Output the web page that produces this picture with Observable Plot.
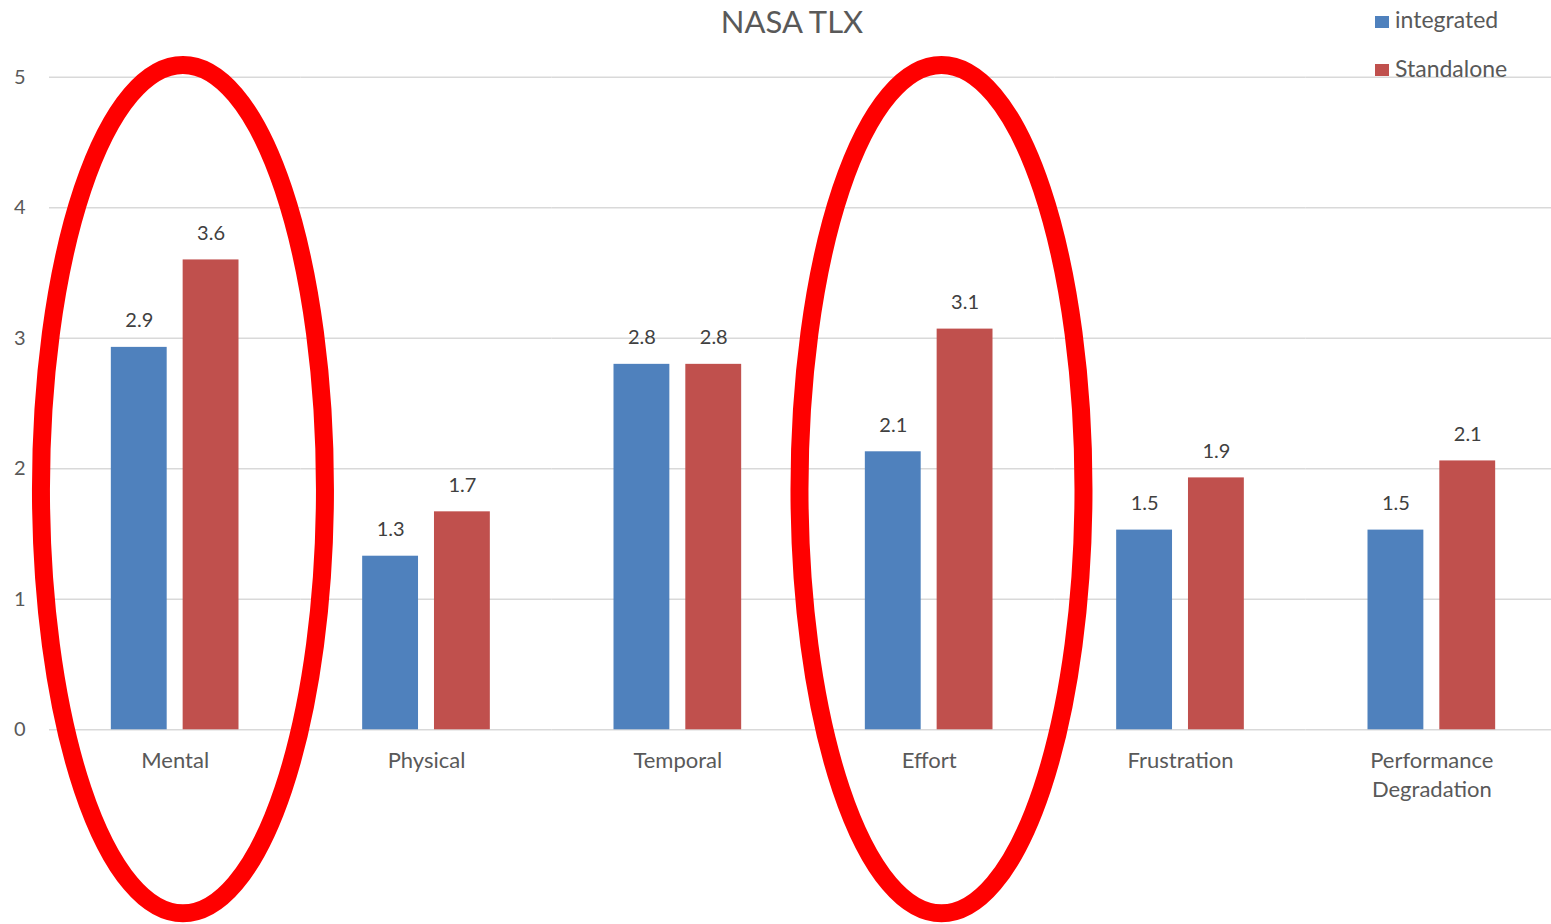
<!DOCTYPE html>
<html>
<head>
<meta charset="utf-8">
<script src="https://cdn.jsdelivr.net/npm/d3@7"></script>
<script src="https://cdn.jsdelivr.net/npm/@observablehq/plot@0.6"></script>
<style>
  html, body { margin: 0; padding: 0; background: #fff; overflow: hidden; }
  #chart { position: relative; width: 1551px; height: 924px; font-family: Lato, sans-serif; }
  #title { position: relative; height: 48px; }
  #title span { position: absolute; left: 792px; top: 3px; transform: translateX(-50%);
    font-size: 31px; line-height: 1.2; color: #595959; white-space: nowrap; }
  .legend-item { position: absolute; left: 1395px; font-size: 23px; line-height: 1.2;
    color: #595959; white-space: nowrap; }
  .swatch { position: absolute; left: 1375px; width: 14px; height: 12px; }
  #chart svg { display: block; overflow: visible; max-width: none !important; }
</style>
</head>
<body>
<div id="chart">
  <div id="title"><span>NASA TLX</span></div>
</div>
<script>
// NASA TLX workload ratings per dimension, integrated vs. standalone
const categories = ["Mental", "Physical", "Temporal", "Effort", "Frustration", "Performance Degradation"];
const categoryLabels = ["Mental", "Physical", "Temporal", "Effort", "Frustration", "Performance\nDegradation"];
const seriesNames = ["integrated", "Standalone"];
const integrated = [2.93, 1.33, 2.80, 2.13, 1.53, 1.53];
const standalone = [3.60, 1.67, 2.80, 3.07, 1.93, 2.06];
const yTicks = [0, 1, 2, 3, 4, 5];
const seriesColors = ["#4F81BD", "#C0504D"];
const highlighted = ["Mental", "Effort"];

const rows = categories.flatMap((c, i) => [
  {category: c, series: seriesNames[0], value: integrated[i]},
  {category: c, series: seriesNames[1], value: standalone[i]}
]);
const labelOf = new Map(categories.map((c, i) => [c, categoryLabels[i]]));
const fmt = d3.format(".1f");

const plot = Plot.plot({
  width: 1557,
  height: 876,
  marginLeft: 49,
  marginRight: 0,
  marginTop: 28.7,
  marginBottom: 194.7,
  style: {fontFamily: "Lato, sans-serif", background: "transparent", overflow: "visible", maxWidth: "none"},
  fx: {domain: categories, padding: 0, round: false, label: null},
  x: {domain: seriesNames, paddingInner: 0.2222, paddingOuter: 0.861, round: false, axis: null},
  y: {domain: [0, 5], axis: null},
  color: {domain: seriesNames, range: seriesColors},
  marks: [
    Plot.gridY(yTicks, {stroke: "#D9D9D9", strokeOpacity: 1, strokeWidth: 1.5}),
    Plot.axisY(yTicks, {tickSize: 0, tickPadding: 24, fontSize: 20, color: "#595959", label: null,
      tickFormat: d3.format("d")}),
    Plot.axisFx({anchor: "bottom", tickSize: 0, tickPadding: 18, fontSize: 22, color: "#595959",
      lineHeight: 1.3, label: null, tickFormat: (c) => labelOf.get(c)}),
    Plot.barY(rows, {fx: "category", x: "series", y: "value", fill: "series"}),
    Plot.text(rows, {fx: "category", x: "series", y: "value", text: (d) => fmt(d.value),
      lineAnchor: "bottom", dy: -20, fontSize: 20, fill: "#404040"})
  ]
});

// Red ellipses calling out the highlighted dimensions
const fxScale = plot.scale("fx");
const yScale = plot.scale("y");
const ellipseShift = {Mental: 0.033, Effort: 0.051};
const ellipseTop = 5.09, ellipseBottom = -1.41, ellipseHalfWidth = 0.565;
const overlay = d3.select(plot).append("g").attr("fill", "none").attr("stroke", "#FF0000").attr("stroke-width", 18);
for (const c of highlighted) {
  const cx = fxScale.apply(c) + fxScale.bandwidth * (0.5 + ellipseShift[c]);
  const y1 = yScale.apply(ellipseTop), y2 = yScale.apply(ellipseBottom);
  overlay.append("ellipse")
    .attr("cx", cx)
    .attr("cy", (y1 + y2) / 2)
    .attr("rx", fxScale.bandwidth * ellipseHalfWidth)
    .attr("ry", Math.abs(y2 - y1) / 2);
}

const chart = document.getElementById("chart");
chart.appendChild(plot);

// Legend
const legendTops = [6.3, 55];
const swatchTops = [15.5, 63.5];
seriesNames.forEach((name, i) => {
  const sw = document.createElement("div");
  sw.className = "swatch";
  sw.style.top = swatchTops[i] + "px";
  sw.style.background = seriesColors[i];
  chart.appendChild(sw);
  const t = document.createElement("div");
  t.className = "legend-item";
  t.style.top = legendTops[i] + "px";
  t.textContent = name;
  chart.appendChild(t);
});
</script>
</body>
</html>
